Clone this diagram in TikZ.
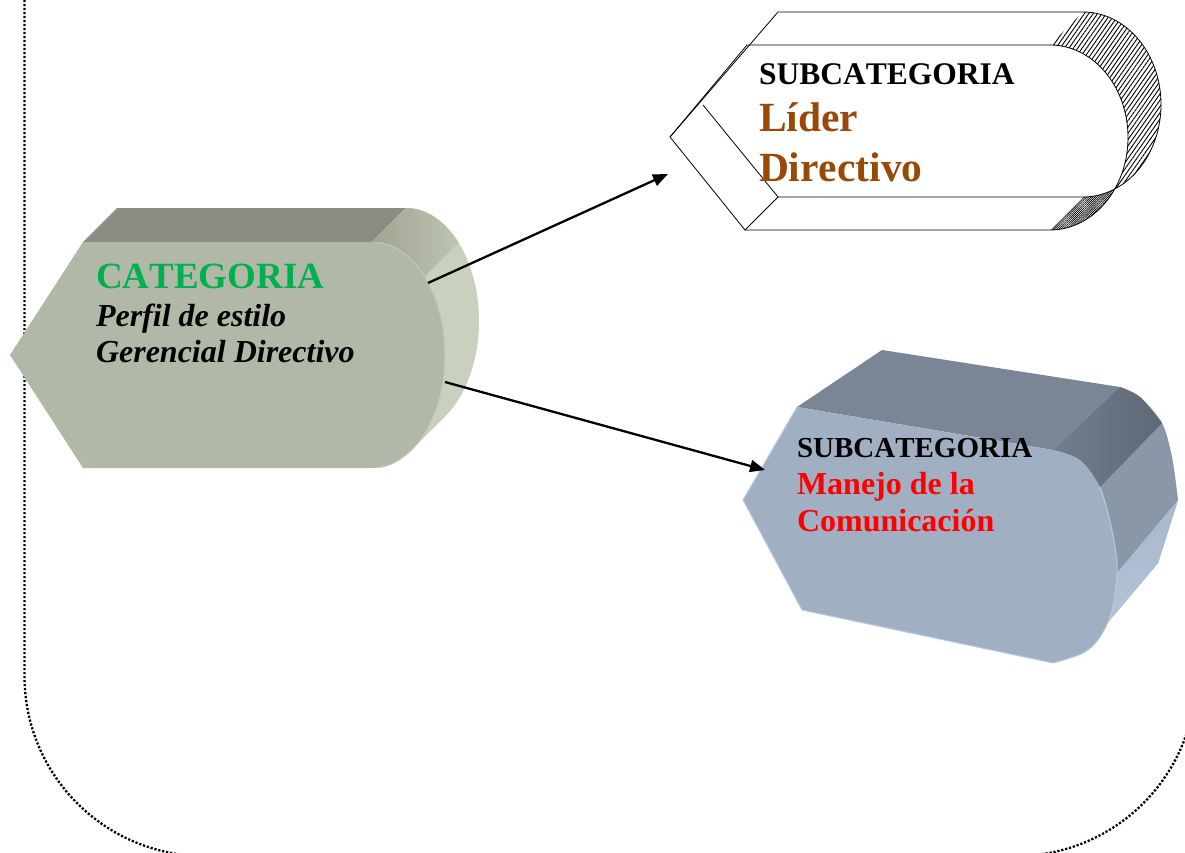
\documentclass[tikz,border=0pt]{standalone}
\usepackage{fontspec}
\setmainfont{Liberation Serif}[Kerning=Off]
\usetikzlibrary{arrows.meta,patterns.meta}

\definecolor{catfront}{HTML}{B1B8A7}
\definecolor{cattop}{HTML}{8A8D81}
\definecolor{catside}{HTML}{C9D0BE}
\definecolor{catsidedark}{HTML}{A0A592}
\definecolor{catsidelight}{HTML}{BEC4B2}
\definecolor{catedge}{HTML}{C2C9B7}
\definecolor{catgreen}{HTML}{00B050}
\definecolor{liderbrown}{HTML}{984807}
\definecolor{comfront}{HTML}{A0AFC2}
\definecolor{comtop}{HTML}{7A8695}
\definecolor{comdark}{HTML}{5E6775}
\definecolor{comdarkedge}{HTML}{737E8D}
\definecolor{commid}{HTML}{8A97A7}
\definecolor{comlight}{HTML}{B4C4DA}
\definecolor{comlightb}{HTML}{A8B8CD}
\definecolor{comedge}{HTML}{B8CAE3}

\tikzset{
  border/.style={line width=2.3pt, dash pattern=on 2.2pt off 1.8pt, rounded corners=180pt},
  link/.style={line width=2.3pt, -{Triangle[length=15pt,width=12pt]}},
  wire/.style={line width=0.8pt, line join=round},
  txt/.style={anchor=base west, inner sep=0pt, outer sep=0pt},
  big/.style={font=\bfseries\fontsize{37}{44}\selectfont},
}

\begin{document}
\begin{tikzpicture}[x=1pt,y=-1pt]
\useasboundingbox (0,0) rectangle (1185,853);
\clip (0,0) rectangle (1185,853);

% dotted frame with rounded lower corners
\draw[border] (24.5,-20) -- (24.5,856) -- (1196,856) -- (1196,-20);

% ---------- CATEGORIA block ----------
\fill[cattop] (83,242) -- (117,208) -- (406,208) -- (372,242) -- cycle;
\fill[catside] (406,208)
  -- plot[domain=-90:57.1,samples=60,variable=\t] ({406+73*cos(\t)},{321+113*sin(\t)})
  -- plot[domain=57.1:-90,samples=60,variable=\t] ({372+73*cos(\t)},{355+113*sin(\t)})
  -- cycle;
\shade[left color=catsidedark, right color=catsidelight] (406,208)
  -- plot[domain=-90:-44,samples=30,variable=\t] ({406+73*cos(\t)},{321+113*sin(\t)})
  -- plot[domain=-44:-90,samples=30,variable=\t] ({372+73*cos(\t)},{355+113*sin(\t)})
  -- cycle;
\fill[catfront] (10,355) -- (83,242) -- (372,242)
  -- plot[domain=-90:90,samples=80,variable=\t] ({372+73*cos(\t)},{355+113*sin(\t)})
  -- (83,468) -- cycle;
\draw[catedge, line width=1pt]
  plot[domain=-85:85,samples=70,variable=\t] ({372+73*cos(\t)},{355+113*sin(\t)});

\node[txt, big, text=catgreen] (catTitle) at (96,288) {CATEGORIA};
\node[txt, font=\bfseries\itshape\fontsize{32}{38}\selectfont] (catLineA) at (96,326) {Perfil de estilo};
\node[txt, font=\bfseries\itshape\fontsize{32}{38}\selectfont] (catLineB) at (96,362) {Gerencial Directivo};

% ---------- upper SUBCATEGORIA block (line drawing) ----------
\path[pattern={Lines[angle=55,distance=3.6pt,line width=0.9pt]}] (1050,45) -- (1083,12)
  -- plot[domain=-90:65.9,samples=60,variable=\t] ({1083+78*cos(\t)},{104.5+92.5*sin(\t)})
  -- plot[domain=33.8:-90,samples=60,variable=\t] ({1050+78*cos(\t)},{137.5+92.5*sin(\t)})
  -- cycle;
\path[pattern={Lines[angle=45,distance=1.5pt,line width=0.7pt]}] (1050,230) -- (1083,197)
  -- plot[domain=90:65.9,samples=20,variable=\t] ({1083+78*cos(\t)},{104.5+92.5*sin(\t)})
  -- plot[domain=33.8:90,samples=30,variable=\t] ({1050+78*cos(\t)},{137.5+92.5*sin(\t)})
  -- cycle;
\draw[wire] (670,137) -- (778,12) -- (1083,12);
\draw[wire] (670,137) -- (747,45) -- (1050,45);
\draw[wire] (670,137) -- (745,230) -- (1050,230);
\draw[wire] (703,105) -- (778,197) -- (1083,197);
\draw[wire] (778,197) -- (745,230);
\draw[wire] plot[domain=-90:90,samples=80,variable=\t] ({1083+78*cos(\t)},{104.5+92.5*sin(\t)});
\draw[wire] plot[domain=-90:90,samples=80,variable=\t] ({1050+78*cos(\t)},{137.5+92.5*sin(\t)});

\node[txt, font=\bfseries\fontsize{31.5}{38}\selectfont] (liderTitle) at (759,85) {SUBCATEGORIA};
\node[txt, font=\bfseries\fontsize{41.5}{48}\selectfont, text=liderbrown] (liderA) at (759,132) {Líder};
\node[txt, font=\bfseries\fontsize{41.5}{48}\selectfont, text=liderbrown] (liderB) at (759,182) {Directivo};

% ---------- lower SUBCATEGORIA block ----------
\fill[comtop] (797,407) -- (882,350) -- (1120,387) -- (1053,450) -- cycle;
\fill[commid] (1053,450) -- (1120,387)
  -- plot[smooth] coordinates {(1120,387) (1140,397) (1162,423) (1172,457) (1178,500)}
  -- (1158,563) -- (1093,640) -- (1050,655) -- (1050,460) -- cycle;
\shade[left color=comdarkedge, right color=comdark] (1053,450) -- (1120,387)
  -- plot[smooth] coordinates {(1120,387) (1140,397) (1162,423)}
  -- (1100,487) -- (1060,470) -- cycle;
\shade[top color=comlightb, bottom color=comlight] (1117,573) -- (1178,500) -- (1158,563)
  -- (1093,640) -- (1080,600) -- cycle;
\fill[comfront] (743,500) -- (797,407) -- (1053,450)
  -- plot[smooth,tension=0.6] coordinates {(1053,450) (1080,460) (1100,487) (1108,513) (1115,547) (1117,573) (1112,610) (1100,637) (1083,653) (1053,663)}
  -- (802,610) -- cycle;
\draw[comedge, line width=1pt] (797,407) -- (743,500) -- (802,610) -- (1053,663)
  plot[smooth,tension=0.6] coordinates {(1053,663) (1083,653) (1100,637) (1112,610) (1117,573) (1115,547) (1108,513) (1100,487)};

\node[txt, font=\bfseries\fontsize{29}{35}\selectfont] (comTitle) at (797,457) {SUBCATEGORIA};
\node[txt, font=\bfseries\fontsize{32}{38}\selectfont, text=red] (comA) at (797,494) {Manejo de la};
\node[txt, font=\bfseries\fontsize{32}{38}\selectfont, text=red] (comB) at (797,531) {Comunicación};

% ---------- connectors ----------
\coordinate (catOutUp) at (428,283);
\coordinate (catOutDown) at (445,382);
\coordinate (liderIn) at (668,174);
\coordinate (comIn) at (765,470);
\draw[link] (catOutUp) -- (liderIn);
\draw[link] (catOutDown) -- (comIn);
\end{tikzpicture}
\end{document}
